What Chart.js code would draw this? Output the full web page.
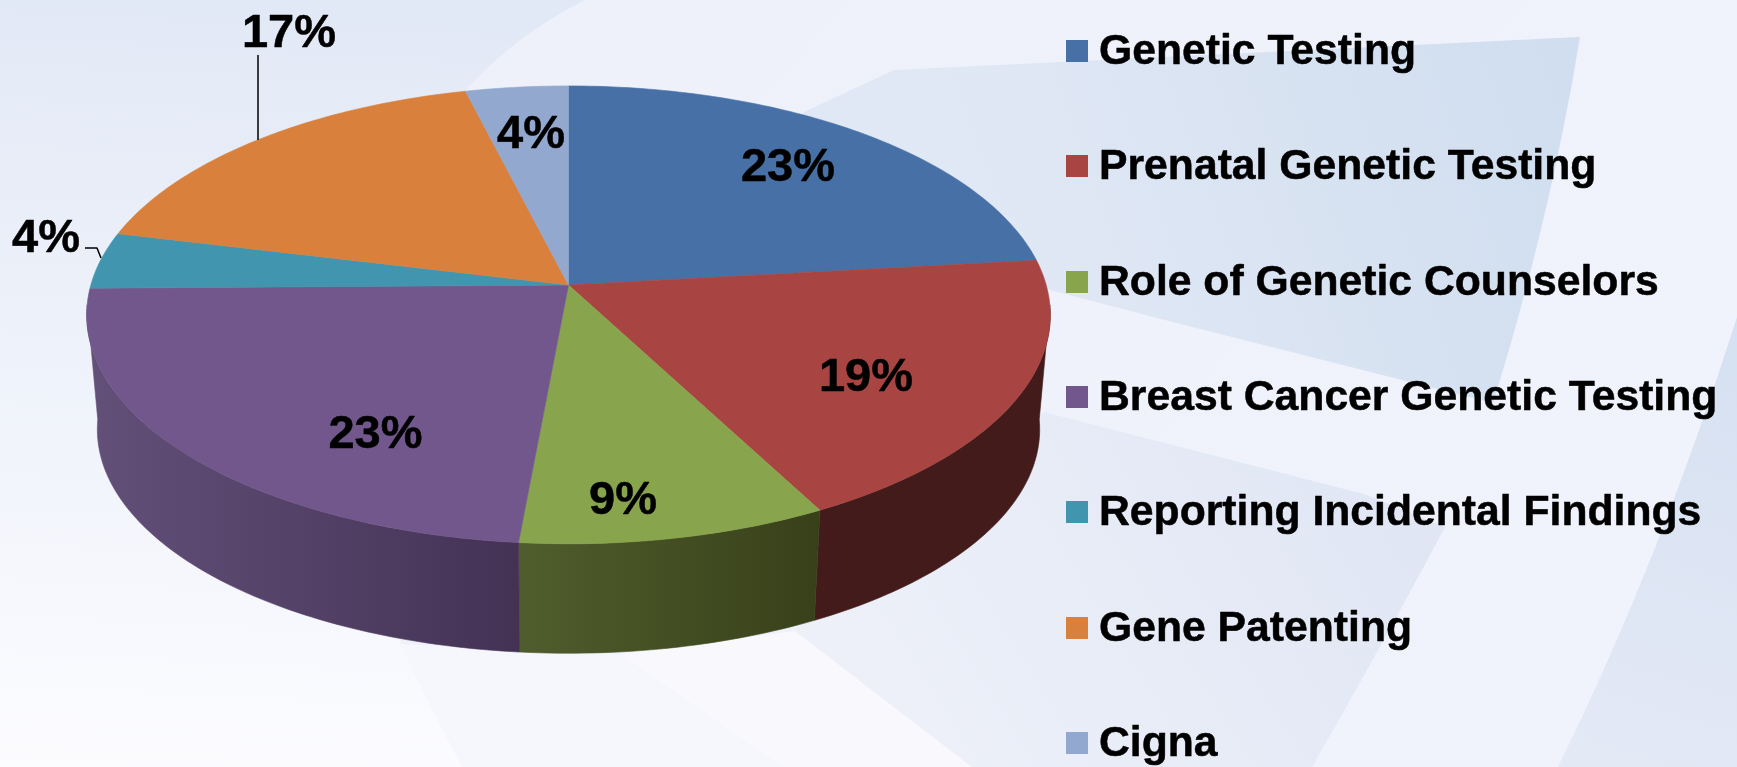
<!DOCTYPE html>
<html>
<head>
<meta charset="utf-8">
<style>html,body{margin:0;padding:0;background:#eef1fa;overflow:hidden}canvas{display:block}</style>
<script src="https://cdn.jsdelivr.net/npm/chart.js@4/dist/chart.umd.min.js"></script>
</head>
<body>
<canvas id="c" width="1737" height="767"></canvas>
<script>
const categories = ['Genetic Testing','Prenatal Genetic Testing','Role of Genetic Counselors','Breast Cancer Genetic Testing','Reporting Incidental Findings','Gene Patenting','Cigna'];
const shares = [23.2,19.05,9.15,23.3,4.0,17.3,3.9];
const sliceColors = ['#4670a6','#a84442','#88a44c','#72578c','#4195ae','#d8803c','#92a8cf'];
const wallColorsLeft = ['#2b4364','#431b1a','#505d2c','#635079','#27596a','#824d24','#58657c'];
const wallColorsRight = ['#2b4364','#431b1a','#384019','#443255','#27596a','#824d24','#58657c'];
const labelCentres = [[788,164],[866,374],[623,497],[375.5,431],[46,235],[289,30],[531,131]];

// perspective of the tilted disc, in units of the pie radius
const P = {a:1.679, b:0.791, k:0.1304, shrink:0.978, vanishY:18.4, wallFrom:95, wallTo:265};
function project(el, tDeg, bottom){
  const t = tDeg*Math.PI/180, X = Math.sin(t), Y = -Math.cos(t), w = 1-P.k*Y, r = el.outerRadius;
  let px = P.a*X/w, py = P.b*Y/w;
  if(bottom){ px *= P.shrink; py = P.vanishY+(py-P.vanishY)*P.shrink; }
  return [el.x+px*r, el.y+py*r];
}
const deg = a => (a+Math.PI/2)*180/Math.PI;
function arcPath(ctx, el, a, b, bottom, first){
  const n = Math.max(2, Math.ceil(Math.abs(b-a)));
  for(let i=0;i<=n;i++){
    const p = project(el, a+(b-a)*i/n, bottom);
    if(i===0 && first) ctx.moveTo(p[0],p[1]); else ctx.lineTo(p[0],p[1]);
  }
}
function poly(ctx, pts, fill){
  ctx.beginPath();
  ctx.moveTo(pts[0][0],pts[0][1]);
  for(let i=1;i<pts.length;i++) ctx.lineTo(pts[i][0],pts[i][1]);
  ctx.closePath();
  ctx.fillStyle = fill; ctx.fill();
}
function grad(ctx,x0,y0,x1,y1,c0,c1){
  const g = ctx.createLinearGradient(x0,y0,x1,y1);
  g.addColorStop(0,c0); g.addColorStop(1,c1); return g;
}

const backdrop = {
  id:'backdrop',
  beforeDraw(chart){
    const ctx = chart.ctx, W = chart.width, H = chart.height;
    ctx.save();
    ctx.fillStyle = grad(ctx,100,0,60,767,'#e2e9f6','#fcfcff');
    ctx.fillRect(0,0,W,H);
    // light sweep
    ctx.beginPath();
    ctx.moveTo(464,92); ctx.quadraticCurveTo(515,35,585,0);
    ctx.lineTo(W,0); ctx.lineTo(W,H); ctx.lineTo(462,H); ctx.lineTo(400,644); ctx.closePath();
    ctx.fillStyle = grad(ctx,600,0,1500,767,'#eef1fa','#f0f3fb');
    ctx.fill();
    // pale floor
    poly(ctx,[[400,644],[620,654],[783,767],[462,767]],'#f6f7fc');
    poly(ctx,[[620,654],[795,631],[972,767],[783,767]],'#f9f9fd');
    // main panel
    ctx.beginPath();
    ctx.moveTo(802,113); ctx.lineTo(894,70); ctx.lineTo(1580,37);
    ctx.quadraticCurveTo(1550,220,1493,403);
    ctx.lineTo(1157,318); ctx.lineTo(1050,290); ctx.closePath();
    ctx.fillStyle = grad(ctx,1560,60,1000,260,'#d0deef','#e1e8f5');
    ctx.fill();
    // lower panel
    ctx.beginPath();
    ctx.moveTo(795,631); ctx.lineTo(1044,412); ctx.lineTo(1157,441); ctx.lineTo(1364,494); ctx.lineTo(1445,527);
    ctx.quadraticCurveTo(1385,640,1312,767); ctx.lineTo(972,767); ctx.closePath();
    ctx.fillStyle = grad(ctx,1400,480,950,760,'#e0e6f4','#edf0f9');
    ctx.fill();
    // right rim
    ctx.beginPath();
    ctx.moveTo(W,317); ctx.quadraticCurveTo(1660,560,1558,767); ctx.lineTo(W,H); ctx.closePath();
    ctx.fillStyle = grad(ctx,W,340,1600,767,'#d6e1f1','#e4e9f6');
    ctx.fill();
    ctx.restore();
  }
};

const disc3d = {
  id:'disc3d',
  beforeDatasetDraw(chart){
    const ctx = chart.ctx, arcs = chart.getDatasetMeta(0).data;
    ctx.save();
    // side wall
    arcs.forEach((el,i)=>{
      const a = Math.max(deg(el.startAngle),P.wallFrom), b = Math.min(deg(el.endAngle),P.wallTo);
      if(b<=a) return;
      const pa = project(el,a), pb = project(el,b);
      ctx.beginPath();
      arcPath(ctx,el,a,b,false,true);
      arcPath(ctx,el,b,a,true,false);
      ctx.closePath();
      const fill = grad(ctx,Math.min(pa[0],pb[0]),0,Math.max(pa[0],pb[0]),0,wallColorsLeft[i],wallColorsRight[i]);
      ctx.fillStyle = fill; ctx.strokeStyle = fill; ctx.lineWidth = .6;
      ctx.fill(); ctx.stroke();
    });
    // top face
    arcs.forEach((el,i)=>{
      ctx.beginPath();
      ctx.moveTo(el.x,el.y);
      arcPath(ctx,el,deg(el.startAngle),deg(el.endAngle),false,false);
      ctx.closePath();
      ctx.fillStyle = sliceColors[i]; ctx.strokeStyle = sliceColors[i]; ctx.lineWidth = .6;
      ctx.fill(); ctx.stroke();
    });
    ctx.restore();
    return false;
  }
};

const annotations = {
  id:'annotations',
  afterDraw(chart){
    const ctx = chart.ctx, values = chart.data.datasets[0].data;
    ctx.save();
    ctx.fillStyle = '#000'; ctx.textBaseline = 'alphabetic';
    ctx.strokeStyle = '#000'; ctx.lineJoin = 'round';
    // percentage labels
    ctx.font = 'bold 47px "Liberation Sans", Arial, sans-serif';
    ctx.textAlign = 'center';
    ctx.lineWidth = .5;
    values.forEach((v,i)=>{
      const s = Math.round(v)+'%', x = labelCentres[i][0], y = labelCentres[i][1]+16.5;
      ctx.fillText(s,x,y); ctx.strokeText(s,x,y);
    });
    // leader lines
    ctx.lineWidth = 1.5;
    ctx.beginPath(); ctx.moveTo(258,55); ctx.lineTo(258,140); ctx.stroke();
    ctx.beginPath(); ctx.moveTo(85,248); ctx.lineTo(97,248); ctx.lineTo(101,258); ctx.stroke();
    // legend
    ctx.font = 'bold 42.7px "Liberation Sans", Arial, sans-serif';
    ctx.textAlign = 'left';
    ctx.lineWidth = .5;
    chart.data.labels.forEach((name,i)=>{
      const y = 51+115.3*i;
      ctx.fillStyle = sliceColors[i];
      ctx.fillRect(1066,Math.round(y-11),22,22);
      ctx.fillStyle = '#000';
      ctx.fillText(name,1099,y+13); ctx.strokeText(name,1099,y+13);
    });
    ctx.restore();
  }
};

new Chart(document.getElementById('c'),{
  type:'pie',
  data:{labels:categories,datasets:[{data:shares,backgroundColor:sliceColors,borderWidth:0}]},
  options:{
    responsive:false,
    animation:false,
    layout:{padding:{left:284,right:884,top:0,bottom:197}},
    plugins:{legend:{display:false},tooltip:{enabled:false}}
  },
  plugins:[backdrop,disc3d,annotations]
});
</script>
</body>
</html>
